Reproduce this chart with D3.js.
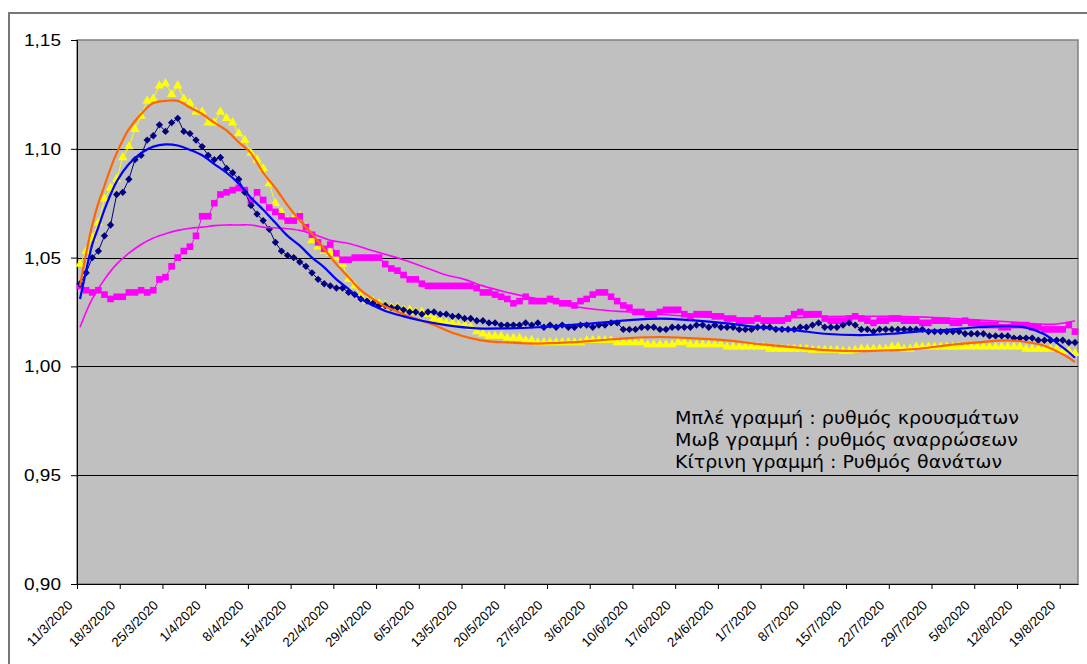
<!DOCTYPE html>
<html><head><meta charset="utf-8">
<script src="https://cdn.jsdelivr.net/npm/d3@7"></script>
<style>body{margin:0;background:#fff;overflow:hidden}</style>
</head><body><svg id="c" width="1087" height="664"></svg>
<script>
// ---------- data ----------
const tickLabels = ["11/3/2020","18/3/2020","25/3/2020","1/4/2020","8/4/2020","15/4/2020","22/4/2020","29/4/2020",
  "6/5/2020","13/5/2020","20/5/2020","27/5/2020","3/6/2020","10/6/2020","17/6/2020","24/6/2020","1/7/2020",
  "8/7/2020","15/7/2020","22/7/2020","29/7/2020","5/8/2020","12/8/2020","19/8/2020"];
const categories = d3.timeDay.range(new Date(2020,2,11), new Date(2020,7,22)); // 164 days
const yTicks = [0.90,0.95,1.00,1.05,1.10,1.15];
const legendLines = ["Μπλέ γραμμή : ρυθμός κρουσμάτων","Μωβ γραμμή : ρυθμός αναρρώσεων","Κίτρινη γραμμή : Ρυθμός θανάτων"];

// case rate (navy diamonds)
const cases = [1.038,1.043,1.050,1.053,1.060,1.065,1.079,1.080,1.086,1.095,1.097,1.104,1.106,1.111,1.108,1.112,1.114,1.108,1.107,1.104,
 1.101,1.097,1.095,1.096,1.091,1.089,1.086,1.080,1.074,1.070,1.067,1.063,1.057,1.053,1.051,1.050,1.048,1.046,1.043,1.040,
 1.038,1.037,1.036,1.036,1.034,1.033,1.031,1.030,1.029,1.028,1.028,1.027,1.027,1.026,1.025,1.025,1.024,1.025,1.025,1.024,
 1.024,1.023,1.023,1.022,1.022,1.021,1.021,1.020,1.020,1.019,1.019,1.019,1.019,1.020,1.019,1.020,1.018,1.019,1.018,1.019,
 1.018,1.018,1.019,1.019,1.018,1.019,1.019,1.020,1.020,1.017,1.017,1.017,1.018,1.018,1.018,1.017,1.017,1.018,1.018,1.018,
 1.018,1.019,1.019,1.018,1.019,1.018,1.018,1.018,1.017,1.017,1.017,1.018,1.018,1.018,1.017,1.017,1.017,1.017,1.018,1.018,
 1.019,1.020,1.018,1.018,1.018,1.019,1.020,1.019,1.017,1.017,1.016,1.017,1.017,1.017,1.017,1.017,1.017,1.017,1.017,1.016,
 1.016,1.016,1.016,1.016,1.016,1.015,1.015,1.015,1.015,1.014,1.014,1.014,1.014,1.013,1.013,1.013,1.013,1.012,1.012,1.012,
 1.012,1.012,1.011,1.011];
// recovery rate (magenta squares)
const recoveries = [1.037,1.035,1.034,1.035,1.033,1.031,1.032,1.032,1.034,1.034,1.035,1.034,1.035,1.040,1.041,1.046,1.050,1.053,1.055,1.060,
 1.069,1.069,1.075,1.079,1.080,1.081,1.082,1.081,1.076,1.080,1.0765,1.073,1.071,1.069,1.067,1.067,1.069,1.064,1.0605,1.057,
 1.054,1.056,1.052,1.049,1.049,1.050,1.050,1.050,1.050,1.050,1.047,1.045,1.044,1.042,1.040,1.040,1.038,1.037,1.037,1.037,
 1.037,1.037,1.037,1.037,1.037,1.036,1.034,1.034,1.033,1.032,1.031,1.029,1.030,1.032,1.030,1.030,1.030,1.031,1.030,1.029,
 1.029,1.028,1.030,1.031,1.033,1.034,1.034,1.032,1.030,1.028,1.027,1.025,1.025,1.024,1.024,1.025,1.026,1.026,1.026,1.024,
 1.023,1.024,1.024,1.024,1.023,1.023,1.022,1.022,1.021,1.021,1.021,1.022,1.021,1.021,1.021,1.021,1.022,1.024,1.025,1.024,
 1.024,1.024,1.022,1.021,1.021,1.021,1.022,1.023,1.022,1.021,1.020,1.021,1.021,1.022,1.022,1.021,1.021,1.021,1.020,1.020,
 1.021,1.021,1.021,1.020,1.020,1.021,1.020,1.020,1.019,1.019,1.019,1.018,1.018,1.019,1.019,1.019,1.018,1.018,1.017,1.017,
 1.017,1.017,1.019,1.016];
// death rate (yellow triangles)
const deaths = [1.047,1.053,1.059,1.066,1.077,1.082,1.086,1.096,1.101,1.109,1.115,1.122,1.123,1.129,1.130,1.125,1.129,1.123,1.121,1.117,
 1.117,1.112,1.112,1.117,1.114,1.112,1.107,1.104,1.098,1.095,1.091,1.084,1.075,1.071,1.067,1.068,1.069,1.064,1.058,1.055,
 1.053,1.052,1.050,1.047,1.040,1.037,1.032,1.030,1.030,1.029,1.028,1.027,1.027,1.026,1.026,1.025,1.025,1.024,1.022,1.021,
 1.020,1.020,1.019,1.019,1.018,1.016,1.015,1.014,1.014,1.014,1.013,1.013,1.013,1.012,1.012,1.011,1.011,1.011,1.011,1.011,
 1.011,1.011,1.011,1.012,1.012,1.012,1.012,1.012,1.011,1.011,1.011,1.011,1.011,1.010,1.010,1.010,1.010,1.010,1.011,1.011,
 1.010,1.010,1.010,1.010,1.010,1.010,1.009,1.009,1.009,1.009,1.009,1.009,1.009,1.008,1.008,1.008,1.008,1.008,1.008,1.008,
 1.0075,1.0075,1.0075,1.0075,1.0075,1.007,1.007,1.0075,1.008,1.008,1.008,1.008,1.008,1.009,1.009,1.008,1.008,1.009,1.009,1.009,
 1.009,1.009,1.009,1.009,1.009,1.009,1.009,1.009,1.009,1.009,1.009,1.009,1.009,1.009,1.009,1.008,1.008,1.008,1.008,1.008,
 1.008,1.007,1.007,1.006];

// trendlines (read at listed day indices)
const casesTrendDays = [0,1,2,3,4,5,6,8,10,12,14,16,18,20,22,24,26,28,30,32,34,36,38,40,42,44,46,48,50,53,56,60,65,70,75,80,85,90,95,100,106,111,117,122,128,133,137,142,147,152,155,158,160,162,163];
const casesTrend = [1.031,1.044,1.056,1.064,1.072,1.079,1.085,1.093,1.098,1.101,1.102,1.1015,1.0995,1.097,1.093,1.089,1.084,1.0775,1.072,1.066,
 1.060,1.0555,1.050,1.0455,1.040,1.0355,1.031,1.028,1.0255,1.023,1.021,1.019,1.0175,1.0175,1.018,1.019,1.020,1.0213,1.022,1.0213,
 1.0198,1.018,1.0167,1.015,1.0144,1.015,1.016,1.0168,1.018,1.0185,1.0178,1.0148,1.0108,1.0065,1.004];
const recTrendDays = [0,1,2,4,6,8,10,12,14,16,18,20,22,24,26,28,30,33,36,38,41,44,47,50,53,56,58,60,63,66,70,75,80,85,90,95,100,106,111,117,122,128,133,140,146,152,157,160,163];
const recTrend = [1.018,1.025,1.031,1.040,1.047,1.052,1.056,1.059,1.061,1.0625,1.0635,1.064,1.0647,1.065,1.065,1.065,1.064,1.0635,1.0625,1.061,
 1.058,1.0565,1.054,1.0515,1.049,1.046,1.044,1.042,1.040,1.037,1.034,1.031,1.028,1.026,1.025,1.024,1.023,1.0224,1.0221,1.0224,
 1.0229,1.023,1.023,1.0225,1.0215,1.0205,1.0195,1.0195,1.021];
const deathTrendDays = [0,1,2,3,4,5,6,8,10,12,14,16,18,20,22,24,26,28,30,32,34,36,38,40,42,44,46,48,50,53,56,58,61,64,67,70,75,80,85,90,95,100,106,111,117,122,128,133,137,142,147,152,155,158,160,162,163];
const deathTrend = [1.037,1.052,1.065,1.075,1.083,1.091,1.098,1.109,1.116,1.121,1.122,1.122,1.119,1.116,1.112,1.1085,1.103,1.098,1.089,1.082,
 1.074,1.067,1.061,1.054,1.047,1.041,1.035,1.031,1.0275,1.024,1.021,1.019,1.0155,1.013,1.0115,1.011,1.0105,1.011,1.012,1.013,
 1.0135,1.013,1.012,1.0103,1.0088,1.0075,1.007,1.0074,1.008,1.0097,1.011,1.012,1.0112,1.0095,1.007,1.004,1.002];

// ---------- drawing ----------
const svg = d3.select("#c");
const L = 77, R = 1078, T = 40, B = 584;
svg.append("rect").attr("x",9).attr("y",13).attr("width",1300).attr("height",900)
   .attr("fill","#fff").attr("stroke","#777").attr("stroke-width",2);

const xb = d3.scaleBand().domain(d3.range(categories.length)).range([L,R]);
const xl = d3.scaleLinear().domain([0,categories.length]).range([L,R]);
const xc = i => xb(i) + xb.bandwidth()/2;
const xt = d => xl(d + 0.5);
const y = d3.scaleLinear().domain([0.90,1.15]).range([B,T]);

svg.append("rect").attr("x",L).attr("y",T).attr("width",R-L).attr("height",B-T)
   .attr("fill","#C0C0C0").attr("stroke","#808080").attr("stroke-width",1.5);

// gridlines
svg.append("g").selectAll("line").data(yTicks.filter(v=>v>0.91 && v<1.14)).join("line")
  .attr("x1",L).attr("x2",R).attr("y1",d=>Math.round(y(d))+0.5).attr("y2",d=>Math.round(y(d))+0.5)
  .attr("stroke","#000").attr("stroke-width",1);

const fmt = d3.formatLocale({decimal:",",thousands:".",grouping:[3],currency:["","€"]}).format(".2f");
const yAxis = svg.append("g").attr("transform",`translate(${L},0)`)
  .call(d3.axisLeft(y).tickValues(yTicks).tickFormat(fmt).tickSize(6).tickPadding(10));
yAxis.select(".domain").attr("stroke","#000");
yAxis.selectAll("text").attr("font-family","Liberation Sans, Arial, sans-serif").attr("font-size",17).attr("fill","#000")
  .attr("transform","scale(1.12,1)").attr("x",-16/1.12);

const tickDays = tickLabels.map((d,i)=>i*7);
const xAxis = svg.append("g").attr("transform",`translate(0,${B})`)
  .call(d3.axisBottom(xl).tickValues(tickDays).tickFormat((d,i)=>tickLabels[i]).tickSize(5).tickSizeOuter(0));
xAxis.select(".domain").attr("stroke","#000");
xAxis.selectAll("text").attr("font-family","Liberation Sans, Arial, sans-serif").attr("font-size",13.3).attr("fill","#000")
  .attr("text-anchor","end").attr("dy",0).attr("y",0)
  .attr("transform","translate(-4,22) rotate(-45)");

// series
const pts = (arr)=>arr.map((v,i)=>[xc(i),y(v)]);
const lineGen = d3.line();
function series(arr,color,sym,size,rot){
  const g = svg.append("g");
  g.append("path").attr("d",lineGen(pts(arr))).attr("fill","none").attr("stroke",color).attr("stroke-width",1);
  g.selectAll("path.m").data(arr).join("path").attr("class","m")
    .attr("d",d3.symbol(sym,size)())
    .attr("transform",(d,i)=>`translate(${xc(i)},${y(d)}) rotate(${rot})`)
    .attr("fill",color);
}
series(deaths,"#FFFF00",d3.symbolTriangle,38,0);
series(recoveries,"#FF00FF",d3.symbolSquare,44,0);
series(cases,"#000080",d3.symbolSquare,27,45);

// trendlines
const trend = d3.line().curve(d3.curveCatmullRom.alpha(0.5));
function trendLine(days,vals,color,w){
  svg.append("path").attr("d",trend(days.map((d,i)=>[xt(d),y(vals[i])])))
    .attr("fill","none").attr("stroke",color).attr("stroke-width",w);
}
trendLine(recTrendDays,recTrend,"#FF00FF",1.6);
trendLine(deathTrendDays,deathTrend,"#FF6600",2.2);
trendLine(casesTrendDays,casesTrend,"#0000FF",2.2);

// legend text
const widths = [344,343,327];
svg.append("g").selectAll("text").data(legendLines).join("text")
  .attr("x",675).attr("y",(d,i)=>424+i*22)
  .attr("font-family","DejaVu Sans, Verdana, sans-serif").attr("font-size",17).attr("fill","#000")
  .attr("textLength",(d,i)=>widths[i]).attr("lengthAdjust","spacingAndGlyphs")
  .text(d=>d);
</script>
</body></html>
